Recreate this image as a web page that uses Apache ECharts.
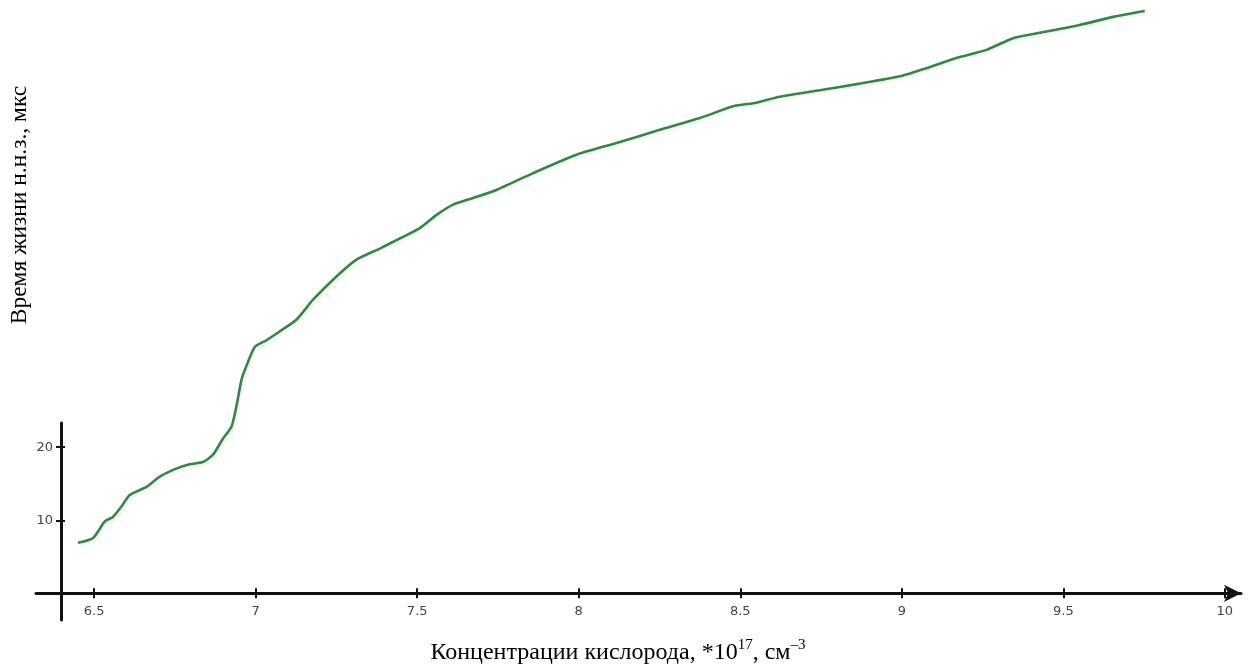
<!DOCTYPE html>
<html>
<head>
<meta charset="utf-8">
<script src="https://cdn.jsdelivr.net/npm/echarts@6/dist/echarts.min.js"></script>
<style>html,body{margin:0;padding:0;background:#fff}#c{width:1253px;height:667px}</style>
</head>
<body>
<div id="c"></div>
<script>
// Oxygen concentration (*10^17 cm^-3)
var xValues = [6.450, 6.496, 6.533, 6.558, 6.584, 6.610, 6.662, 6.703, 6.754, 6.796, 6.837, 6.868, 6.899, 6.925, 6.940, 6.956, 6.966, 6.997, 7.033, 7.074, 7.126, 7.177, 7.250, 7.312, 7.384, 7.456, 7.508, 7.560, 7.611, 7.673, 7.745, 7.859, 7.993, 8.117, 8.251, 8.375, 8.478, 8.550, 8.622, 8.746, 8.870, 8.994, 9.076, 9.169, 9.262, 9.345, 9.448, 9.551, 9.654, 9.752];
// Lifetime (mks)
var yValues = [6.9, 7.5, 9.8, 10.4, 11.8, 13.4, 14.5, 15.9, 17.0, 17.6, 17.9, 18.9, 21.1, 22.7, 25.4, 29.1, 30.4, 33.6, 34.5, 35.7, 37.3, 40.0, 43.2, 45.5, 47.0, 48.6, 49.8, 51.6, 53.0, 53.9, 55.0, 57.3, 59.8, 61.4, 63.2, 64.8, 66.4, 66.9, 67.7, 68.6, 69.5, 70.5, 71.6, 73.0, 74.1, 75.7, 76.6, 77.5, 78.6, 79.4];
var xTicks = [6.5, 7, 7.5, 8, 8.5, 9, 9.5, 10];
var yTicks = [10, 20];
var xRange = [6.32, 10.05];
var yRange = [0, 80];
var yAxisSpan = [-3.6, 23.3];
var xTitle = ['Концентрации кислорода, *10', '17', ', см', '–3'];
var yTitle = 'Время жизни н.н.з., мкс';

var data = xValues.map(function (x, i) { return [x, yValues[i]]; });
var chart = echarts.init(document.getElementById('c'));
var labelStyle = { color: '#444', fontFamily: 'DejaVu Sans', fontSize: 13 };
chart.setOption({
  animation: false,
  grid: [
    { left: 36, right: 12, top: 6.6, bottom: 73.7 },
    { left: 61, width: 100, top: 423, height: 197 }
  ],
  xAxis: [
    { type: 'value', gridIndex: 0, position: 'bottom', min: xRange[0], max: xRange[1],
      axisLine: { onZero: false, lineStyle: { color: '#111', width: 3 }, symbol: ['none', 'arrow'], symbolSize: [13, 17] },
      axisTick: { customValues: xTicks, length: 5, lineStyle: { color: '#111', width: 2 } },
      axisLabel: Object.assign({ customValues: xTicks, margin: 12 }, labelStyle),
      splitLine: { show: false } },
    { type: 'value', gridIndex: 0, position: 'bottom', min: xRange[0], max: xRange[1],
      axisLine: { show: false, onZero: false },
      axisTick: { customValues: xTicks, inside: true, length: 5, lineStyle: { color: '#111', width: 2 } },
      axisLabel: { show: false }, splitLine: { show: false } },
    { type: 'value', gridIndex: 1, show: false }
  ],
  yAxis: [
    { type: 'value', gridIndex: 0, min: yRange[0], max: yRange[1], show: false },
    { type: 'value', gridIndex: 1, position: 'left', min: yAxisSpan[0], max: yAxisSpan[1],
      axisLine: { show: true, onZero: false, lineStyle: { color: '#111', width: 3 } },
      axisTick: { show: true, customValues: yTicks, length: 5, lineStyle: { color: '#111', width: 2 } },
      axisLabel: Object.assign({ customValues: yTicks, margin: 8 }, labelStyle),
      splitLine: { show: false } },
    { type: 'value', gridIndex: 1, position: 'left', min: yAxisSpan[0], max: yAxisSpan[1],
      axisLine: { show: false, onZero: false },
      axisTick: { show: true, inside: true, customValues: yTicks, length: 4, lineStyle: { color: '#111', width: 2 } },
      axisLabel: { show: false }, splitLine: { show: false } }
  ],
  series: [
    { type: 'line', xAxisIndex: 0, yAxisIndex: 0, data: data, showSymbol: false, smooth: 0.2,
      lineStyle: { color: '#2b8c3c', width: 2.6 } }
  ],
  graphic: [
    { type: 'text', x: 618, y: 653,
      style: { text: '{a|' + xTitle[0] + '}{s|' + xTitle[1] + '}{a|' + xTitle[2] + '}{s|' + xTitle[3] + '}',
        align: 'center', verticalAlign: 'middle',
        rich: { a: { fontFamily: 'Liberation Serif', fontSize: 24, fill: '#000', color: '#000', lineHeight: 30 },
                s: { fontFamily: 'Liberation Serif', fontSize: 15, fill: '#000', color: '#000', verticalAlign: 'top', lineHeight: 30, padding: [0, 0, 10, 0] } } } },
    { type: 'text', x: 20, y: 205, rotation: Math.PI / 2,
      style: { text: yTitle, align: 'center', verticalAlign: 'middle', font: '23.5px "Liberation Serif"', fill: '#000' } }
  ]
});
</script>
</body>
</html>
